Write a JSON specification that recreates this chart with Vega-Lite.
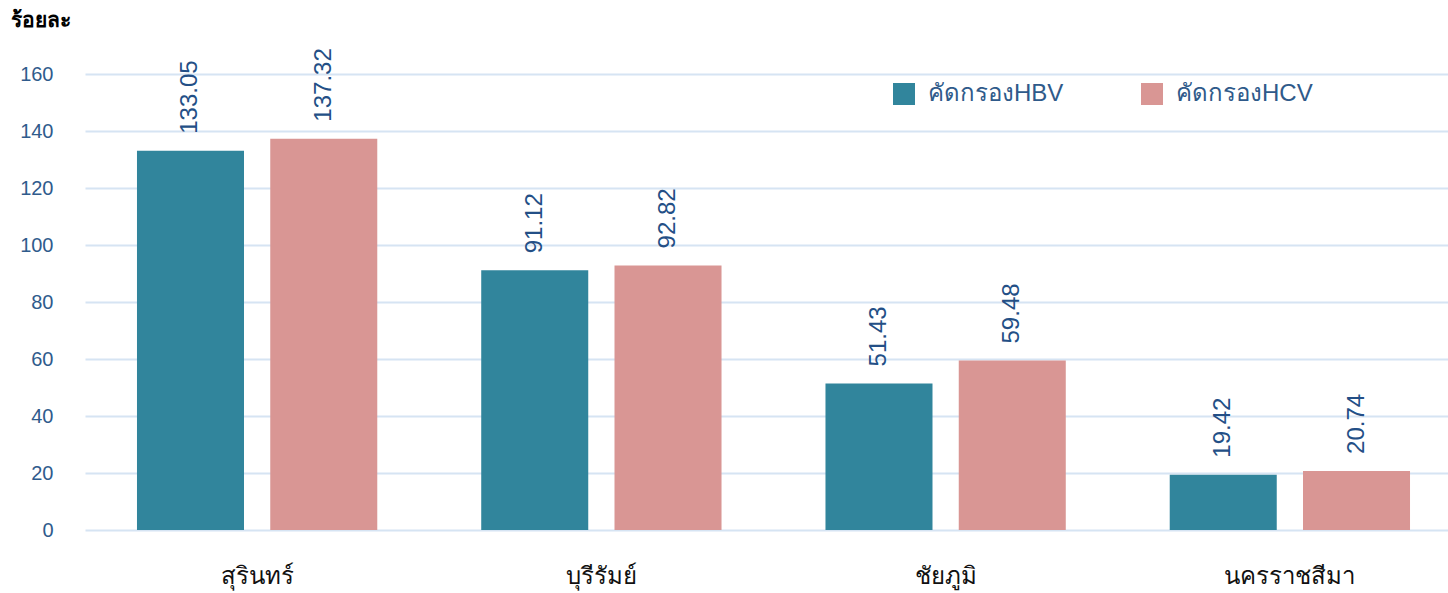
{
  "$schema": "https://vega.github.io/schema/vega-lite/v6.json",
  "width": 1377,
  "height": 456,
  "autosize": {"type": "none"},
  "padding": {"left": 85, "top": 74, "right": 0, "bottom": 63},
  "background": "white",
  "config": {
    "view": {"stroke": null},
    "font": "Liberation Sans"
  },
  "data": {
    "values": [
      {"province": "สุรินทร์", "series": "คัดกรองHBV", "value": 133.05},
      {"province": "สุรินทร์", "series": "คัดกรองHCV", "value": 137.32},
      {"province": "บุรีรัมย์", "series": "คัดกรองHBV", "value": 91.12},
      {"province": "บุรีรัมย์", "series": "คัดกรองHCV", "value": 92.82},
      {"province": "ชัยภูมิ", "series": "คัดกรองHBV", "value": 51.43},
      {"province": "ชัยภูมิ", "series": "คัดกรองHCV", "value": 59.48},
      {"province": "นครราชสีมา", "series": "คัดกรองHBV", "value": 19.42},
      {"province": "นครราชสีมา", "series": "คัดกรองHCV", "value": 20.74}
    ]
  },
  "encoding": {
    "x": {
      "field": "province",
      "type": "nominal",
      "sort": null,
      "scale": {"paddingInner": 0, "paddingOuter": 0},
      "axis": {
        "title": null,
        "labelAngle": 0,
        "domain": false,
        "ticks": false,
        "labelFontSize": 24,
        "labelColor": "#111111",
        "labelPadding": 46,
        "labelBaseline": "middle"
      }
    },
    "xOffset": {
      "field": "series",
      "type": "nominal",
      "scale": {"paddingInner": 0.197, "paddingOuter": 0.39}
    },
    "y": {
      "field": "value",
      "type": "quantitative",
      "scale": {"domain": [0, 160]},
      "axis": {
        "values": [0, 20, 40, 60, 80, 100, 120, 140, 160],
        "domain": false,
        "ticks": false,
        "labelFontSize": 20,
        "labelColor": "#2f5b8c",
        "labelPadding": 32,
        "gridColor": "#d6e4f3",
        "gridWidth": 2,
        "title": "ร้อยละ",
        "titleAngle": 0,
        "titleAlign": "left",
        "titleBaseline": "middle",
        "titleX": -75,
        "titleY": -54,
        "titleFontSize": 21,
        "titleFontWeight": "bold",
        "titleColor": "#000000"
      }
    }
  },
  "layer": [
    {
      "mark": {"type": "bar"},
      "encoding": {
        "color": {
          "field": "series",
          "type": "nominal",
          "scale": {"range": ["#31859c", "#d99694"]},
          "legend": {
            "title": null,
            "orient": "none",
            "legendX": 807,
            "legendY": 8,
            "direction": "horizontal",
            "symbolType": "square",
            "symbolSize": 484,
            "symbolStrokeWidth": 0,
            "labelFontSize": 24,
            "labelColor": "#2f5a8a",
            "labelOffset": 12,
            "labelBaseline": "middle",
            "columnPadding": 76
          }
        }
      }
    },
    {
      "mark": {
        "type": "text",
        "angle": 270,
        "align": "left",
        "baseline": "middle",
        "dx": 17,
        "fontSize": 24,
        "color": "#234f86"
      },
      "encoding": {
        "text": {"field": "value", "type": "quantitative", "format": ".2f"}
      }
    }
  ]
}
